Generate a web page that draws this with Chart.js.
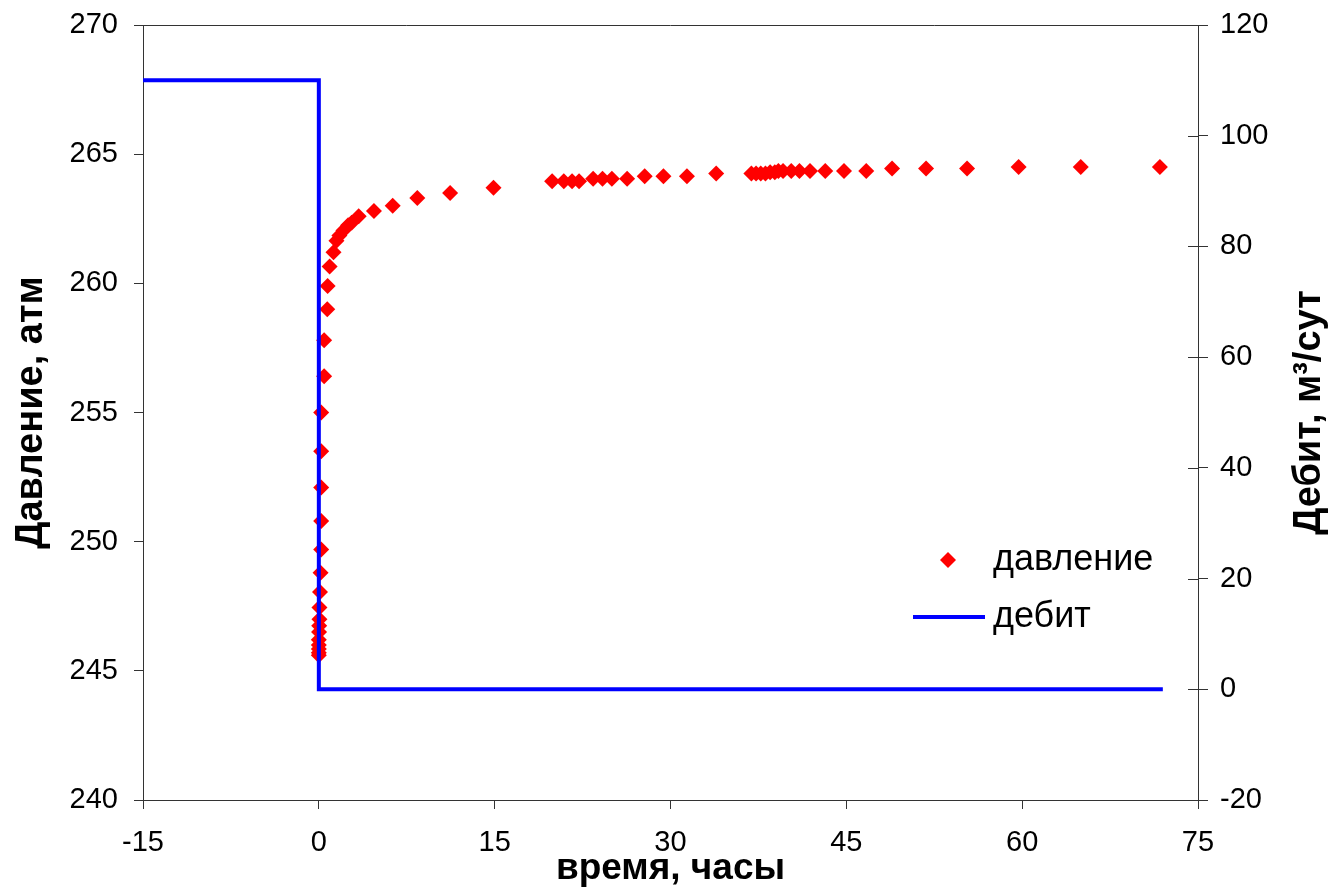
<!DOCTYPE html>
<html>
<head>
<meta charset="utf-8">
<title>Давление и дебит</title>
<script src="https://cdn.jsdelivr.net/npm/chart.js@4"></script>
<style>
  html, body { margin: 0; padding: 0; background: #fff; }
  canvas { display: block; }
</style>
</head>
<body>
<canvas id="kvd" width="1338" height="894"></canvas>
<script>
// время, часы / давление, атм (точки замера)
const pressTime = [
    0.0, 0.0, 0.0, 0.0, 0.0, 0.02, 0.03, 0.05, 0.05, 0.1, 0.15, 0.2, 0.2, 0.2, 0.2, 0.2,
    0.45, 0.45, 0.72, 0.75, 0.92, 1.25, 1.5, 1.75, 2.1, 2.5, 2.8, 3.4, 4.7, 6.3,
    8.4, 11.2, 14.9, 19.9, 20.9, 21.6, 22.2, 23.4, 24.2, 25.0, 26.3, 27.8, 29.4,
    31.4, 33.9, 36.9, 37.3, 37.7, 38.1, 38.5, 38.9, 39.2, 39.6, 40.3, 41.0, 41.9,
    43.2, 44.8, 46.7, 48.9, 51.8, 55.3, 59.7, 65.0, 71.75
];
const pressValue = [
    245.6, 245.7, 245.85, 246.0, 246.2, 246.5, 246.75, 247.0, 247.45, 248.05, 248.8, 249.7, 250.8, 252.1, 253.5, 255.0,
    256.4, 257.8, 259.0, 259.9, 260.65, 261.2, 261.65, 261.85, 262.05, 262.25, 262.35, 262.6, 262.8, 263.0,
    263.3, 263.5, 263.7, 263.95, 263.95, 263.95, 263.95, 264.05, 264.05, 264.05, 264.05, 264.15, 264.15,
    264.15, 264.25, 264.25, 264.25, 264.25, 264.25, 264.3, 264.3, 264.35, 264.35, 264.35, 264.35, 264.35,
    264.35, 264.35, 264.35, 264.45, 264.45, 264.45, 264.5, 264.5, 264.5
];

// дебит, м3/сут
const rateTime = [-15, 0, 0, 72];
const rateValue = [110, 110, 0, 0];

// оси
const xTicks = [-15, 0, 15, 30, 45, 60, 75];
const pTicks = [240, 245, 250, 255, 260, 265, 270];
const qTicks = [-20, 0, 20, 40, 60, 80, 100, 120];

const FONT = "'Liberation Sans', Arial, sans-serif";
const AXIS = '#333333';

function toPoints(xs, ys) {
    return xs.map((x, i) => ({ x: x, y: ys[i] }));
}

// вертикальные оси: фиксированная ширина, без запаса под подписи сверху/снизу
function fixWidth(w) {
    return s => {
        s.width = w;
        s.paddingTop = 0;
        s.paddingBottom = 0;
    };
}

// рамка сверху и засечки правой оси внутрь
const framePlugin = {
    id: 'frame',
    afterDatasetsDraw(chart) {
        const { ctx, chartArea } = chart;
        const y1 = chart.scales.y1;
        ctx.save();
        ctx.strokeStyle = AXIS;
        ctx.lineWidth = 1;
        ctx.beginPath();
        ctx.moveTo(chartArea.left, chartArea.top + 0.5);
        ctx.lineTo(chartArea.right, chartArea.top + 0.5);
        qTicks.forEach(v => {
            const py = Math.round(y1.getPixelForValue(v)) + 0.5;
            ctx.moveTo(chartArea.right - 10, py);
            ctx.lineTo(chartArea.right, py);
        });
        ctx.stroke();
        ctx.restore();
    }
};

// подпись правой оси (снизу вверх, как слева)
const rightTitlePlugin = {
    id: 'rightTitle',
    afterDraw(chart) {
        const { ctx, chartArea } = chart;
        ctx.save();
        ctx.translate(chart.width - 28, (chartArea.top + chartArea.bottom) / 2);
        ctx.rotate(-Math.PI / 2);
        ctx.fillStyle = '#000';
        ctx.textBaseline = 'middle';
        ctx.textAlign = 'center';
        ctx.font = 'bold 38px ' + FONT;
        ctx.fillText('Дебит, м³/сут', 0, 0);
        ctx.restore();
    }
};

// легенда внутри поля графика
const legendPlugin = {
    id: 'innerLegend',
    afterDraw(chart) {
        const { ctx, chartArea } = chart;
        const left = chartArea.right - 285;
        const row1 = chartArea.top + 535;
        const row2 = row1 + 57;
        const p = chart.data.datasets[0];
        const q = chart.data.datasets[1];
        ctx.save();
        ctx.fillStyle = p.backgroundColor;
        const cx = left + 35, r = 8;
        ctx.beginPath();
        ctx.moveTo(cx - r, row1);
        ctx.lineTo(cx, row1 - r);
        ctx.lineTo(cx + r, row1);
        ctx.lineTo(cx, row1 + r);
        ctx.closePath();
        ctx.fill();
        ctx.strokeStyle = q.borderColor;
        ctx.lineWidth = q.borderWidth;
        ctx.beginPath();
        ctx.moveTo(left, row2);
        ctx.lineTo(left + 72, row2);
        ctx.stroke();
        ctx.fillStyle = '#000';
        ctx.font = '36px ' + FONT;
        ctx.textBaseline = 'middle';
        ctx.fillText(p.label, left + 80, row1);
        ctx.fillText(q.label, left + 80, row2);
        ctx.restore();
    }
};

new Chart(document.getElementById('kvd'), {
    type: 'scatter',
    data: {
        datasets: [
            {
                label: 'давление',
                data: toPoints(pressTime, pressValue),
                yAxisID: 'y',
                backgroundColor: '#ff0000',
                borderColor: '#ff0000',
                borderWidth: 0,
                pointStyle: 'rectRot',
                pointRadius: 8,
                showLine: false,
                order: 2
            },
            {
                label: 'дебит',
                data: toPoints(rateTime, rateValue),
                yAxisID: 'y1',
                borderColor: '#0000ff',
                backgroundColor: '#0000ff',
                borderWidth: 4,
                pointRadius: 0,
                showLine: true,
                tension: 0,
                order: 1
            }
        ]
    },
    options: {
        responsive: false,
        devicePixelRatio: 1,
        animation: false,
        layout: { padding: { top: 25, left: 0, right: 0, bottom: 0 } },
        plugins: {
            legend: { display: false },
            tooltip: { enabled: false }
        },
        scales: {
            x: {
                type: 'linear',
                position: 'bottom',
                min: -15,
                max: 75,
                afterBuildTicks: s => { s.ticks = xTicks.map(v => ({ value: v })); },
                afterFit: s => { s.height = 94; },
                border: { display: true, color: AXIS, width: 1 },
                grid: { drawOnChartArea: false, drawTicks: true, tickLength: 9, color: AXIS },
                ticks: { color: '#000', font: { family: FONT, size: 29 }, padding: 17, maxRotation: 0 },
                title: {
                    display: true,
                    text: 'время, часы',
                    color: '#000',
                    font: { family: FONT, size: 37, weight: 'bold', lineHeight: 1.2 },
                    padding: { top: 0, bottom: 3 }
                }
            },
            y: {
                type: 'linear',
                position: 'left',
                min: 240,
                max: 270,
                afterBuildTicks: s => { s.ticks = pTicks.map(v => ({ value: v })); },
                afterFit: fixWidth(143),
                border: { display: true, color: AXIS, width: 1 },
                grid: { drawOnChartArea: false, drawTicks: true, tickLength: 9, color: AXIS },
                ticks: { color: '#000', font: { family: FONT, size: 29 }, padding: 16 },
                title: {
                    display: true,
                    text: 'Давление, атм',
                    color: '#000',
                    font: { family: FONT, size: 38, weight: 'bold', lineHeight: 1.2 },
                    padding: { top: 9, bottom: 0 }
                }
            },
            y1: {
                type: 'linear',
                position: 'right',
                min: -20,
                max: 120,
                afterBuildTicks: s => { s.ticks = qTicks.map(v => ({ value: v })); },
                afterFit: fixWidth(140),
                border: { display: true, color: AXIS, width: 1 },
                grid: { drawOnChartArea: false, drawTicks: true, tickLength: 10, color: AXIS },
                ticks: { color: '#000', font: { family: FONT, size: 29 }, padding: 12 }
            }
        }
    },
    plugins: [framePlugin, rightTitlePlugin, legendPlugin]
});
</script>
</body>
</html>
